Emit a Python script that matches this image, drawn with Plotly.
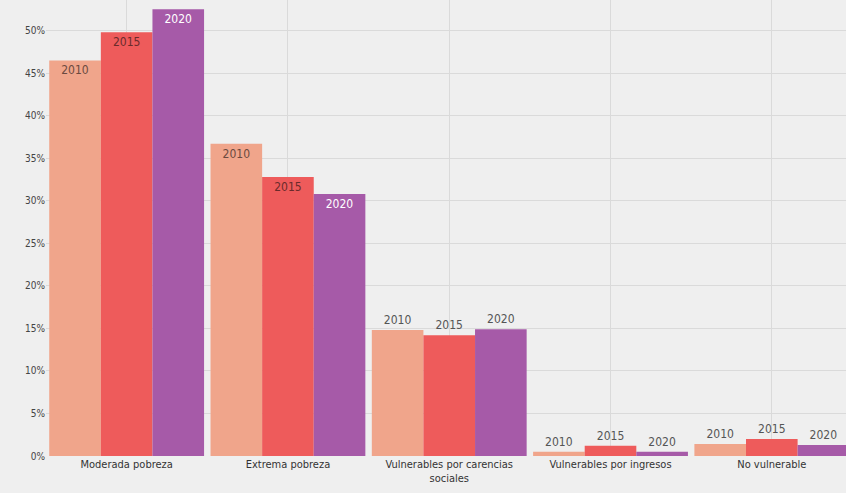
import plotly.graph_objects as go

categories = ["Moderada pobreza", "Extrema pobreza", "Vulnerables por carencias<br>sociales",
              "Vulnerables por ingresos", "No vulnerable"]
years = ["2010", "2015", "2020"]
v2010 = [46.5, 36.7, 14.8, 0.5, 1.4]
v2015 = [49.8, 32.8, 14.2, 1.2, 2.0]
v2020 = [52.5, 30.8, 14.9, 0.5, 1.3]
tick_vals = [0, 5, 10, 15, 20, 25, 30, 35, 40, 45, 50]

colors = ["#F0A58B", "#EE5B5B", "#A65AA8"]
inside_colors = ["#6b4a40", "#6a2b2b", "#ffffff"]
series = [v2010, v2015, v2020]

FONT = "DejaVu Sans Condensed, Liberation Sans Narrow, Roboto, sans-serif"

fig = go.Figure()
xs = list(range(len(categories)))
for yr, vals, col, icol in zip(years, series, colors, inside_colors):
    pos = ["inside" if v > 20 else "outside" for v in vals]
    fig.add_trace(go.Bar(
        x=xs, y=vals, name=yr, marker=dict(color=col, line=dict(width=0)),
        text=[yr] * len(vals), textposition=pos, insidetextanchor="end",
        insidetextfont=dict(color=icol, size=12, family=FONT),
        outsidetextfont=dict(color="#555555", size=12, family=FONT),
        textangle=0, cliponaxis=False,
    ))

fig.update_layout(
    width=846, height=493,
    barmode="group", bargap=0.04, bargroupgap=0.0,
    paper_bgcolor="#EFEFEF", plot_bgcolor="#EFEFEF",
    margin=dict(l=46, r=0, t=0, b=37),
    showlegend=False,
    font=dict(family=FONT, size=11, color="#444444"),
)
fig.update_xaxes(
    tickvals=xs, ticktext=categories, range=[-0.5, 4.46],
    showgrid=True, gridcolor="#DADADA", gridwidth=1,
    showline=False, ticks="", tickfont=dict(size=11, color="#333333"),
    zeroline=False,
)
fig.update_yaxes(
    range=[0, 53.6], tickvals=tick_vals, ticktext=[f"{t}%" for t in tick_vals],
    showgrid=True, gridcolor="#DADADA", gridwidth=1, zeroline=False,
    ticks="", tickfont=dict(size=10, color="#444444"),
)
fig.write_html("out.html", config={"displayModeBar": False},
               post_script="document.body.style.margin='0';document.body.style.background='#EFEFEF';")
